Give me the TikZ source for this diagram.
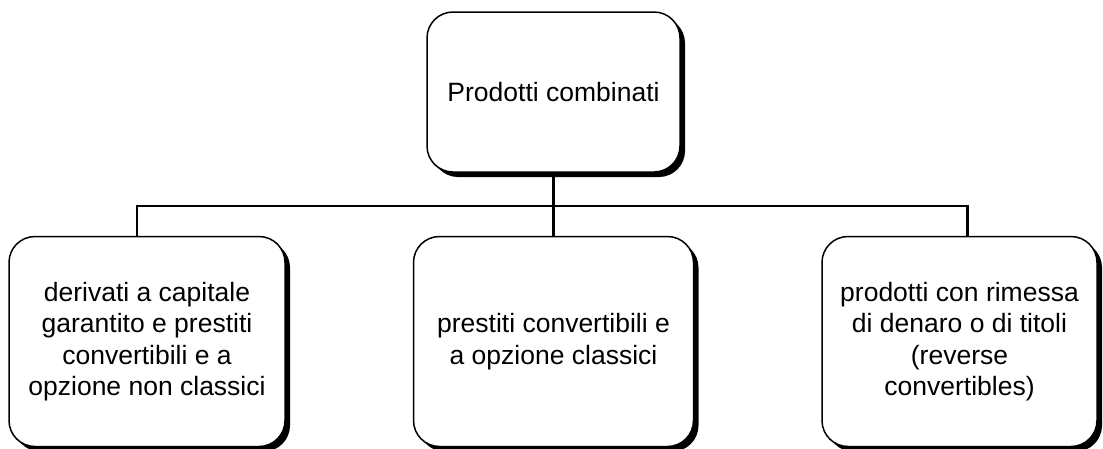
\documentclass[tikz,border=0pt]{standalone}
\usepackage{fontspec}
\setmainfont{Liberation Sans}
\usepackage{tikz}
\usetikzlibrary{positioning}
\usetikzlibrary{shadows}

\begin{document}
\begin{tikzpicture}[x=1pt,y=1pt,font=\fontsize{26.5}{31.5}\selectfont]
    \tikzstyle{box} = [rectangle, draw, line width=1.5pt, rounded corners=26pt, fill=white, align=center,
        drop shadow={shadow xshift=5pt, shadow yshift=-5pt, fill=black, opacity=1}]
    \tikzstyle{link} = [line width=2.5pt]
    \useasboundingbox (0,0) rectangle (1103,-448);
        %%% root %%%
        \node[box,minimum width=253pt,minimum height=160pt] (top) at (553.5,-92) {Prodotti combinati};
        %%% children %%%
        \node[box,below=63pt,minimum width=280pt,minimum height=210pt] (mid) at (top.south)
            {prestiti convertibili e\\a opzione classici};
        \node[box,left=127pt,minimum width=276pt,minimum height=210pt] (lft) at (mid.west)
            {derivati a capitale\\garantito e prestiti\\convertibili e a\\opzione non classici};
        \node[box,right=127pt,minimum width=275pt,minimum height=210pt] (rgt) at (mid.east)
            {prodotti con rimessa\\di denaro o di titoli\\(reverse\\convertibles)};
        %%% connections
        \draw[link] (top.south) -- ++(0,-33) coordinate (bar);
        \draw[link] ([xshift=-10pt]lft.north) |- (bar) -| ([xshift=8pt]rgt.north);
        \draw[link] (bar) -- (mid.north);
\end{tikzpicture}
\end{document}
